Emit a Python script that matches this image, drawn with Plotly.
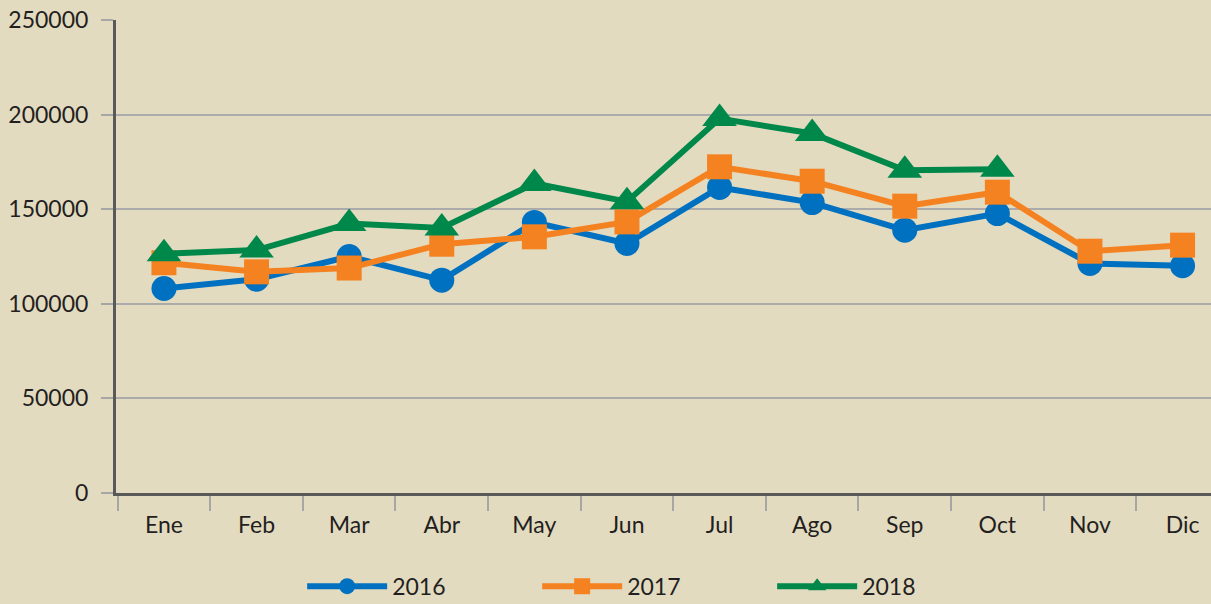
import plotly.graph_objects as go

months = ["Ene", "Feb", "Mar", "Abr", "May", "Jun", "Jul", "Ago", "Sep", "Oct", "Nov", "Dic"]
s2016 = [108100, 113000, 125000, 112500, 143000, 131900, 161500, 153500, 138900, 147700, 121300, 120100]
s2017 = [121700, 116900, 118900, 131500, 135400, 143300, 172400, 164800, 151600, 159000, 127800, 131000]
s2018 = [126500, 128400, 142400, 140100, 163600, 154000, 197900, 190000, 170600, 171100]
y_ticks = [0, 50000, 100000, 150000, 200000, 250000]

BG = "#E3DBC0"
FONT = "Lato"
TXT = "#231F20"

fig = go.Figure()
fig.add_trace(go.Scatter(x=months, y=s2016, name="2016", mode="lines+markers",
                         line=dict(color="#0070C0", width=6),
                         marker=dict(symbol="circle", size=25, color="#0070C0"),
                         cliponaxis=False))
fig.add_trace(go.Scatter(x=months, y=s2017, name="2017", mode="lines+markers",
                         line=dict(color="#F58220", width=6),
                         marker=dict(symbol="square", size=25, color="#F58220"),
                         cliponaxis=False))
fig.add_trace(go.Scatter(x=months[:len(s2018)], y=s2018, name="2018", mode="lines+markers",
                         line=dict(color="#00884A", width=6),
                         marker=dict(symbol="triangle-up", size=30, color="#00884A"),
                         cliponaxis=False))

fig.update_layout(
    width=1211, height=604,
    paper_bgcolor=BG, plot_bgcolor=BG,
    margin=dict(l=116, r=0, t=20, b=111, autoexpand=False),
    font=dict(family=FONT, size=23, color=TXT),
    showlegend=True,
    legend=dict(orientation="h", x=0.17, xanchor="left", y=-0.197, yanchor="middle",
                bgcolor="rgba(0,0,0,0)", font=dict(size=23, color=TXT),
                entrywidth=140, entrywidthmode="pixels", itemwidth=80,
                traceorder="normal"),
)
fig.update_xaxes(
    type="category", categoryorder="array", categoryarray=months,
    range=[-0.518, 11.307],
    showline=True, linecolor="#595959", linewidth=3,
    ticks="outside", tickson="boundaries", ticklen=15, tickwidth=1.5, tickcolor="#A6A6A6",
    showgrid=False, zeroline=False, ticklabelstandoff=9,
    tickfont=dict(family=FONT, size=23, color=TXT),
)
fig.update_yaxes(
    range=[0, 250000], tickvals=y_ticks, ticktext=[str(v) for v in y_ticks],
    showline=True, linecolor="#595959", linewidth=3,
    ticks="outside", ticklen=12, tickwidth=1.5, tickcolor="#A6A6A6",
    showgrid=True, gridcolor="#ABABAB", gridwidth=1.5, zeroline=False,
    ticklabelstandoff=8,
    tickfont=dict(family=FONT, size=23, color=TXT),
)

fig.write_html("out.html", config={"displayModeBar": False},
               post_script="document.body.style.margin='0px';document.body.style.overflow='hidden';document.body.style.background='%s';" % BG)
